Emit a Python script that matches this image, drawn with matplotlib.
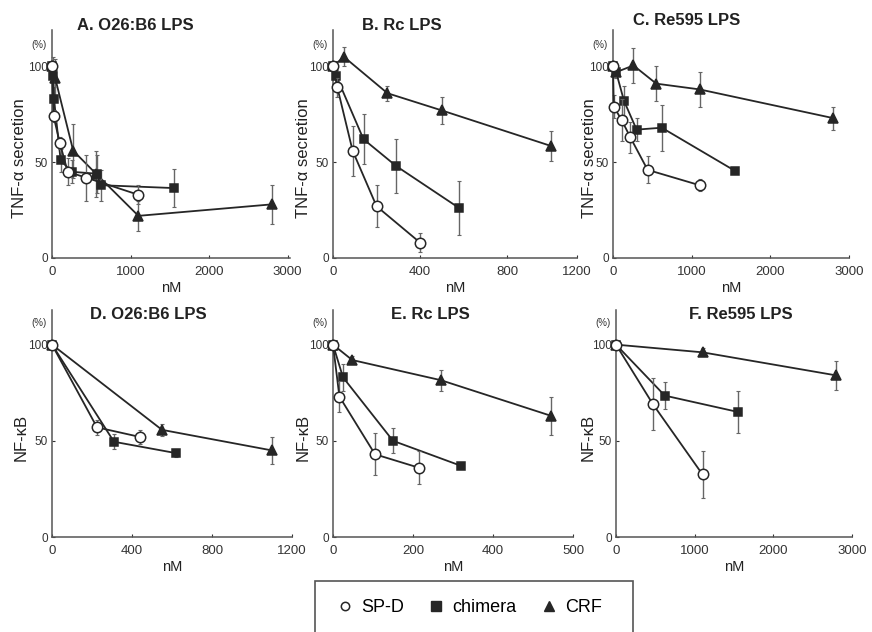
import numpy as np
import matplotlib
matplotlib.use('Agg')
import matplotlib.pyplot as plt
from matplotlib.lines import Line2D
from matplotlib.patches import Rectangle

plt.rcParams['font.family'] = ['Liberation Sans', 'DejaVu Sans']

# ---- data (x in nM, y in %) ----
# A. O26:B6 LPS, TNF-a
a_spd_x = [0, 20, 100, 200, 430, 1100]
a_spd_y = [100, 74, 60, 45, 42, 33]
a_spd_e = [0, 3, 3, 7, 12, 5]
a_chim_x = [0, 15, 25, 110, 250, 570, 620, 1550]
a_chim_y = [100, 95, 83, 51, 45, 44, 38, 36.5]
a_chim_e = [0, 10, 6, 6, 6, 10, 8, 10]
a_crf_x = [0, 40, 270, 560, 1100, 2800]
a_crf_y = [100, 94, 56, 44, 22, 28]
a_crf_e = [0, 10, 14, 12, 8, 10]

# B. Rc LPS, TNF-a
b_spd_x = [0, 20, 90, 200, 400]
b_spd_y = [100, 89, 56, 27, 8]
b_spd_e = [0, 5, 13, 11, 5]
b_chim_x = [0, 15, 140, 290, 580]
b_chim_y = [100, 95, 62, 48, 26]
b_chim_e = [0, 5, 13, 14, 14]
b_crf_x = [0, 50, 250, 500, 1000]
b_crf_y = [100, 105, 86, 77, 58.5]
b_crf_e = [0, 5, 4, 7, 8]

# C. Re595 LPS, TNF-a
c_spd_x = [0, 10, 110, 220, 440, 1100]
c_spd_y = [100, 79, 72, 63, 46, 38]
c_spd_e = [0, 6, 11, 8, 7, 3]
c_chim_x = [0, 40, 140, 300, 620, 1550]
c_chim_y = [100, 97, 82, 67, 68, 45.5]
c_chim_e = [0, 3, 8, 6, 12, 1]
c_crf_x = [0, 40, 260, 550, 1100, 2800]
c_crf_y = [100, 97, 100.5, 91, 88, 73]
c_crf_e = [0, 3, 9, 9, 9, 6]

# D. O26:B6 LPS, NF-kB
d_spd_x = [0, 225, 440]
d_spd_y = [100, 57, 52]
d_spd_e = [0, 4, 3.5]
d_chim_x = [0, 310, 620]
d_chim_y = [100, 49.5, 43.6]
d_chim_e = [0, 4, 2]
d_crf_x = [0, 550, 1100]
d_crf_y = [100, 55.7, 45]
d_crf_e = [0, 3, 7]

# E. Rc LPS, NF-kB
e_spd_x = [0, 16, 105, 215]
e_spd_y = [100, 73, 43, 36]
e_spd_e = [0, 8, 11, 8.5]
e_chim_x = [0, 25, 150, 320]
e_chim_y = [100, 83, 50, 37]
e_chim_e = [0, 7, 6.5, 1]
e_crf_x = [0, 48, 270, 545]
e_crf_y = [100, 92, 81.5, 63]
e_crf_e = [0, 2, 5.5, 10]

# F. Re595 LPS, NF-kB
f_spd_x = [0, 470, 1100]
f_spd_y = [100, 69, 32.5]
f_spd_e = [0, 13.5, 12]
f_chim_x = [0, 620, 1550]
f_chim_y = [100, 73.5, 65]
f_chim_e = [0, 7, 11]
f_crf_x = [0, 1100, 2800]
f_crf_y = [100, 96, 84]
f_crf_e = [0, 2, 7.5]

titles = ['A. O26:B6 LPS', 'B. Rc LPS', 'C. Re595 LPS',
          'D. O26:B6 LPS', 'E. Rc LPS', 'F. Re595 LPS']
ylabels = ['TNF-\u03b1 secretion'] * 3 + ['NF-\u03baB'] * 3
xtick_pos = [[0, 1000, 2000, 3000], [0, 400, 800, 1120], [0, 1000, 2000, 3000],
             [0, 400, 800, 1200], [0, 200, 400, 600], [0, 1000, 2000, 3000]]
xtick_lab = [['0', '1000', '2000', '3000'], ['0', '400', '800', '1200'],
             ['0', '1000', '2000', '3000'], ['0', '400', '800', '1200'],
             ['0', '200', '400', '500'], ['0', '1000', '2000', '3000']]
xmax = [3030, 1120, 3000, 1200, 600, 3000]

W, H = 872, 632
# axes boxes in pixels: left, right, top, bottom
boxes = [(52, 290, 30, 258), (333, 577, 30, 258), (613, 849, 30, 258),
         (52, 292, 310, 537), (333, 573, 310, 537), (616, 852, 310, 537)]
ytop = [119, 119, 119, 118, 118, 118]
title_x = [0.105, 0.12, 0.085, 0.16, 0.24, 0.31]
title_y = [1.02, 1.02, 1.04, 0.98, 0.98, 0.98]
ylab_x = [-0.135, -0.12, -0.1, -0.127, -0.125, -0.118]

panels = [
    (a_spd_x, a_spd_y, a_spd_e, a_chim_x, a_chim_y, a_chim_e, a_crf_x, a_crf_y, a_crf_e),
    (b_spd_x, b_spd_y, b_spd_e, b_chim_x, b_chim_y, b_chim_e, b_crf_x, b_crf_y, b_crf_e),
    (c_spd_x, c_spd_y, c_spd_e, c_chim_x, c_chim_y, c_chim_e, c_crf_x, c_crf_y, c_crf_e),
    (d_spd_x, d_spd_y, d_spd_e, d_chim_x, d_chim_y, d_chim_e, d_crf_x, d_crf_y, d_crf_e),
    (e_spd_x, e_spd_y, e_spd_e, e_chim_x, e_chim_y, e_chim_e, e_crf_x, e_crf_y, e_crf_e),
    (f_spd_x, f_spd_y, f_spd_e, f_chim_x, f_chim_y, f_chim_e, f_crf_x, f_crf_y, f_crf_e),
]

ink = '#262626'
bar = '#666666'


def draw_series(ax, x, y, e, marker, ms, face, z):
    ax.errorbar(x, y, yerr=e, fmt='none', ecolor=bar, elinewidth=1.0,
                capsize=1.5, capthick=0.8, zorder=z, clip_on=False)
    ax.plot(x, y, color=ink, lw=1.3, marker=marker, ms=ms, mfc=face,
            mec=ink, mew=1.1, zorder=z + 1, clip_on=False)


fig = plt.figure(figsize=(W / 100, H / 100), dpi=100)

for i, p in enumerate(panels):
    l, r, t, b = boxes[i]
    ax = fig.add_axes([l / W, (H - b) / H, (r - l) / W, (b - t) / H])
    sx, sy, se, cx, cy, ce, tx, ty, te = p
    draw_series(ax, tx, ty, te, '^', 6.5, ink, 3)
    draw_series(ax, cx, cy, ce, 's', 5.5, ink, 5)
    draw_series(ax, sx, sy, se, 'o', 7.5, 'white', 7)

    ax.set_xlim(0, xmax[i])
    ax.set_ylim(0, ytop[i])
    ax.set_yticks([0, 50, 100])
    ax.set_xticks(xtick_pos[i])
    ax.set_xticklabels(xtick_lab[i])
    for s in ['top', 'right']:
        ax.spines[s].set_visible(False)
    for s in ['left', 'bottom']:
        ax.spines[s].set_color('#555555')
        ax.spines[s].set_linewidth(1.1)
    ax.tick_params(axis='x', direction='in', length=2, pad=6, labelsize=9.5,
                   colors='#333333')
    ax.tick_params(axis='y', direction='in', length=2, pad=3, labelsize=8.5,
                   colors='#333333')
    ax.patch.set_alpha(0)

    ax.text(title_x[i], title_y[i], titles[i], transform=ax.transAxes,
            fontsize=12, fontweight='bold', color='#222222', va='center')
    ax.text(-0.055, 111, '(%)', transform=ax.get_yaxis_transform(),
            fontsize=7, color='#333333', ha='center', va='center')
    ax.text(ylab_x[i], 0.44, ylabels[i], transform=ax.transAxes, rotation=90,
            fontsize=12, color='#222222', ha='center', va='center')
    ax.text(0.5, -0.13, 'nM', transform=ax.transAxes, fontsize=10.5,
            color='#222222', ha='center', va='center')

# legend box (bottom cut off by the figure edge like the original)
fig.patches.append(Rectangle((315 / W, -10 / H), 318 / W, 61 / H,
                             transform=fig.transFigure, fill=False,
                             edgecolor='#555555', lw=1.2))
handles = [Line2D([], [], ls='none', marker='o', ms=6, mfc='white', mec=ink, mew=1.1),
           Line2D([], [], ls='none', marker='s', ms=6.5, mfc=ink, mec=ink),
           Line2D([], [], ls='none', marker='^', ms=7, mfc=ink, mec=ink)]
fig.legend(handles, ['SP-D', 'chimera', 'CRF'], loc='center', ncol=3,
           bbox_to_anchor=(470 / W, (H - 608) / H), frameon=False,
           fontsize=13, handlelength=0.8, handletextpad=0.5, columnspacing=1.4)

fig.savefig('out.png', dpi=100)
